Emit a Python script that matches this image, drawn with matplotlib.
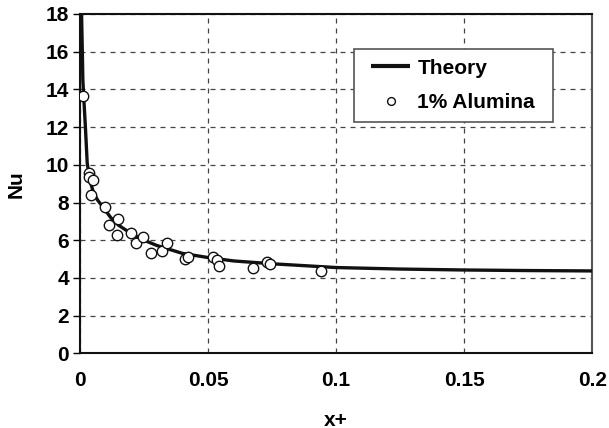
import matplotlib
matplotlib.use("Agg")
import matplotlib.pyplot as plt
from matplotlib.legend_handler import HandlerLine2D
from matplotlib.lines import Line2D

plt.rcParams['font.family'] = ['Liberation Sans', 'DejaVu Sans']
plt.rcParams['font.weight'] = 'bold'

theory_x = [0.0006, 0.0009, 0.0011, 0.0014, 0.0021, 0.0028, 0.0038, 0.0053, 0.007, 0.009,
            0.012, 0.015, 0.02, 0.025, 0.03, 0.04, 0.05, 0.06, 0.075, 0.1, 0.125, 0.15, 0.175, 0.2]
theory_nu = [18.0, 16.0, 14.5, 13.7, 12.0, 10.1, 9.2, 8.5, 8.1, 7.75,
             7.2, 6.8, 6.35, 6.0, 5.72, 5.3, 5.08, 4.9, 4.75, 4.55, 4.47, 4.42, 4.39, 4.37]

exp_x = [0.0013, 0.0035, 0.0035, 0.0052, 0.0043, 0.0098, 0.0150, 0.0113, 0.0144, 0.0199,
         0.0217, 0.0247, 0.0277, 0.0321, 0.0341, 0.0410, 0.0423, 0.0520, 0.0534, 0.0543,
         0.0677, 0.0731, 0.0742, 0.0941]
exp_nu = [13.67, 9.58, 9.34, 9.19, 8.40, 7.75, 7.11, 6.81, 6.28, 6.40,
          5.87, 6.19, 5.34, 5.44, 5.84, 4.99, 5.12, 5.09, 4.95, 4.63,
          4.54, 4.83, 4.72, 4.38]

xticks = [0, 0.05, 0.1, 0.15, 0.2]
xtick_labels = ['0', '0.05', '0.1', '0.15', '0.2']
yticks = [0, 2, 4, 6, 8, 10, 12, 14, 16, 18]

FS = 15

fig = plt.figure(figsize=(6.09, 4.28), dpi=100)
ax = fig.add_axes([0.1314, 0.1745, 0.9726 - 0.1314, 0.9673 - 0.1745])

ax.plot(theory_x, theory_nu, color='#111111', lw=2.4, label='Theory', zorder=3,
        solid_capstyle='butt')
ax.plot(exp_x, exp_nu, linestyle='none', marker='o', markersize=7.5,
        markerfacecolor='white', markeredgecolor='#111111', markeredgewidth=1.0,
        label='1% Alumina', zorder=4)

ax.set_xlim(0, 0.2)
ax.set_ylim(0, 18)
ax.set_xticks(xticks)
ax.set_xticklabels(xtick_labels)
ax.set_yticks(yticks)

ax.grid(True, linestyle=(0, (4, 4)), color='#444444', linewidth=0.9)
ax.set_axisbelow(True)

for s in ['left', 'bottom', 'top']:
    ax.spines[s].set_color('#111111')
    ax.spines[s].set_linewidth(1.5)
ax.spines['right'].set_color('#555555')
ax.spines['right'].set_linewidth(1.5)

ax.tick_params(axis='y', direction='out', length=5, width=1, labelsize=FS, pad=3)
ax.tick_params(axis='x', length=0, labelsize=FS, pad=12.5)
for lab in ax.get_xticklabels() + ax.get_yticklabels():
    lab.set_fontweight('bold')

ax.set_xlabel('x+', fontsize=FS, fontweight='bold', labelpad=15)
ax.set_ylabel('Nu', fontsize=FS, fontweight='bold', labelpad=14)

leg = ax.legend(loc='upper left', bbox_to_anchor=(0.535, 0.691, 0.389, 0.205),
                mode='expand', frameon=True, fancybox=False, markerscale=0.75,
                prop={'weight': 'bold', 'size': FS}, handlelength=2.25,
                borderpad=0.45, labelspacing=0.75, handletextpad=0.34,
                borderaxespad=0,
                handler_map={Line2D: HandlerLine2D(xpad=0.38)})
leg.get_frame().set_edgecolor('#555555')
leg.get_frame().set_linewidth(1.2)
leg.get_frame().set_alpha(1)
for h in leg.legend_handles:
    if h.get_label() == 'Theory':
        h.set_linewidth(3.0)

fig.savefig('out.png', dpi=100)
